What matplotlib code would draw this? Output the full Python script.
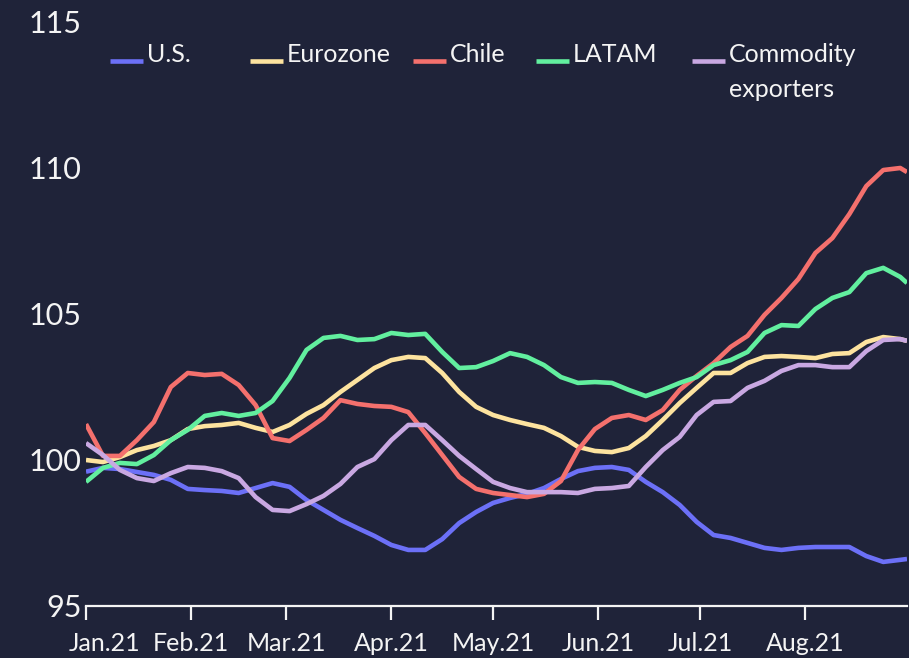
import pandas as pd
import matplotlib
matplotlib.use("Agg")
import matplotlib.pyplot as plt
import matplotlib.dates as mdates
from matplotlib.lines import Line2D
from matplotlib.transforms import ScaledTranslation

# sample dates: every 5 days from Jan 1, plus the last day
dates = list(pd.date_range("2021-01-01", periods=49, freq="5D")) + [pd.Timestamp("2021-08-31")]

us = [99.60, 99.73, 99.69, 99.59, 99.49, 99.32, 99.01, 98.97, 98.94, 98.87,
      99.04, 99.21, 99.08, 98.63, 98.29, 97.95, 97.67, 97.40, 97.09, 96.92,
      96.92, 97.29, 97.84, 98.22, 98.53, 98.70, 98.84, 99.04, 99.35, 99.62,
      99.73, 99.76, 99.66, 99.25, 98.90, 98.46, 97.88, 97.43, 97.33, 97.16,
      96.99, 96.92, 96.99, 97.02, 97.02, 97.02, 96.71, 96.51, 96.58, 96.61]

eurozone = [100.00, 99.93, 100.10, 100.34, 100.48, 100.68, 101.06, 101.16, 101.20, 101.27,
            101.10, 100.96, 101.20, 101.58, 101.88, 102.33, 102.74, 103.15, 103.42, 103.53,
            103.49, 102.98, 102.33, 101.82, 101.54, 101.37, 101.23, 101.10, 100.82, 100.45,
            100.31, 100.27, 100.41, 100.82, 101.37, 101.95, 102.47, 102.98, 102.98, 103.32,
            103.53, 103.56, 103.53, 103.49, 103.63, 103.66, 104.04, 104.21, 104.14, 104.08]

chile = [101.23, 100.14, 100.14, 100.68, 101.30, 102.50, 102.98, 102.91, 102.95, 102.57,
         101.88, 100.75, 100.65, 101.03, 101.44, 102.05, 101.92, 101.85, 101.82, 101.64,
         100.92, 100.17, 99.42, 99.01, 98.87, 98.80, 98.73, 98.84, 99.28, 100.34,
         101.06, 101.44, 101.54, 101.37, 101.71, 102.40, 102.88, 103.32, 103.87, 104.25,
         104.97, 105.55, 106.20, 107.09, 107.60, 108.42, 109.38, 109.93, 110.00, 109.86]

latam = [99.25, 99.73, 99.90, 99.86, 100.17, 100.68, 101.03, 101.51, 101.61, 101.51,
         101.61, 102.02, 102.81, 103.77, 104.18, 104.25, 104.11, 104.14, 104.35, 104.28,
         104.32, 103.70, 103.15, 103.18, 103.39, 103.66, 103.53, 103.25, 102.84, 102.64,
         102.67, 102.64, 102.40, 102.19, 102.40, 102.64, 102.84, 103.25, 103.42, 103.70,
         104.35, 104.62, 104.59, 105.17, 105.55, 105.75, 106.40, 106.58, 106.27, 106.06]

commodity = [100.58, 100.17, 99.66, 99.38, 99.28, 99.55, 99.76, 99.73, 99.62, 99.38,
             98.73, 98.29, 98.25, 98.49, 98.77, 99.18, 99.76, 100.03, 100.68, 101.20,
             101.20, 100.68, 100.14, 99.69, 99.25, 99.04, 98.90, 98.90, 98.90, 98.87,
             99.01, 99.04, 99.11, 99.76, 100.34, 100.79, 101.54, 101.99, 102.02, 102.47,
             102.71, 103.05, 103.25, 103.25, 103.18, 103.18, 103.73, 104.11, 104.14, 104.08]

series = [us, eurozone, chile, latam, commodity]
labels = ["U.S.", "Eurozone", "Chile", "LATAM", "Commodity\nexporters"]
colors = ["#6c70f7", "#fde39f", "#f4706d", "#62ef9f", "#c9a8e2"]
yticks = [95, 100, 105, 110, 115]

BG = "#1f2339"
FG = "#f4f4f4"
FONT = ["Lato", "DejaVu Sans"]

plt.rcParams["font.family"] = FONT

W, H = 909, 658
fig = plt.figure(figsize=(W / 100, H / 100), dpi=100, facecolor=BG)
ax = fig.add_axes([86 / W, 1 - 606 / H, (907 - 86) / W, (606 - 22) / H])
ax.set_facecolor(BG)

for vals, col in zip(series, colors):
    ax.plot(dates, vals, color=col, lw=3.3, solid_capstyle="butt", solid_joinstyle="round")

ax.set_xlim(pd.Timestamp("2021-01-01"), pd.Timestamp("2021-08-31"))
ax.set_ylim(95, 115)
ax.set_yticks(yticks)

ax.xaxis.set_major_locator(mdates.MonthLocator())
ax.xaxis.set_major_formatter(mdates.DateFormatter("%b.%y"))

for side in ["left", "right", "top"]:
    ax.spines[side].set_visible(False)
ax.spines["bottom"].set_color(FG)
ax.spines["bottom"].set_linewidth(1.6)

ax.tick_params(axis="y", length=0, pad=3, labelsize=22, labelcolor=FG)
ax.tick_params(axis="x", length=10, width=1.6, color=FG, pad=9, labelsize=18, labelcolor=FG)

# first month label sits a bit to the right, as in the original
first = ax.get_xticklabels()[0]
first.set_transform(first.get_transform() + ScaledTranslation(19 / 100, 0, fig.dpi_scale_trans))

# legend laid out in one row along the top, long label wraps onto a second line
leg_x = [110, 250, 413, 536, 692]
leg_y = 61
line_gap = 35
for x0, lab, col in zip(leg_x, labels, colors):
    fig.add_artist(Line2D([x0 / W, (x0 + 33) / W], [1 - leg_y / H, 1 - leg_y / H],
                          transform=fig.transFigure, color=col, lw=3.3, solid_capstyle="butt"))
    for i, part in enumerate(lab.split("\n")):
        fig.text((x0 + 37) / W, 1 - (leg_y + 1 + i * line_gap) / H, part, color=FG,
                 fontsize=18, va="baseline", ha="left")

fig.savefig("out.png", dpi=100, facecolor=BG)
